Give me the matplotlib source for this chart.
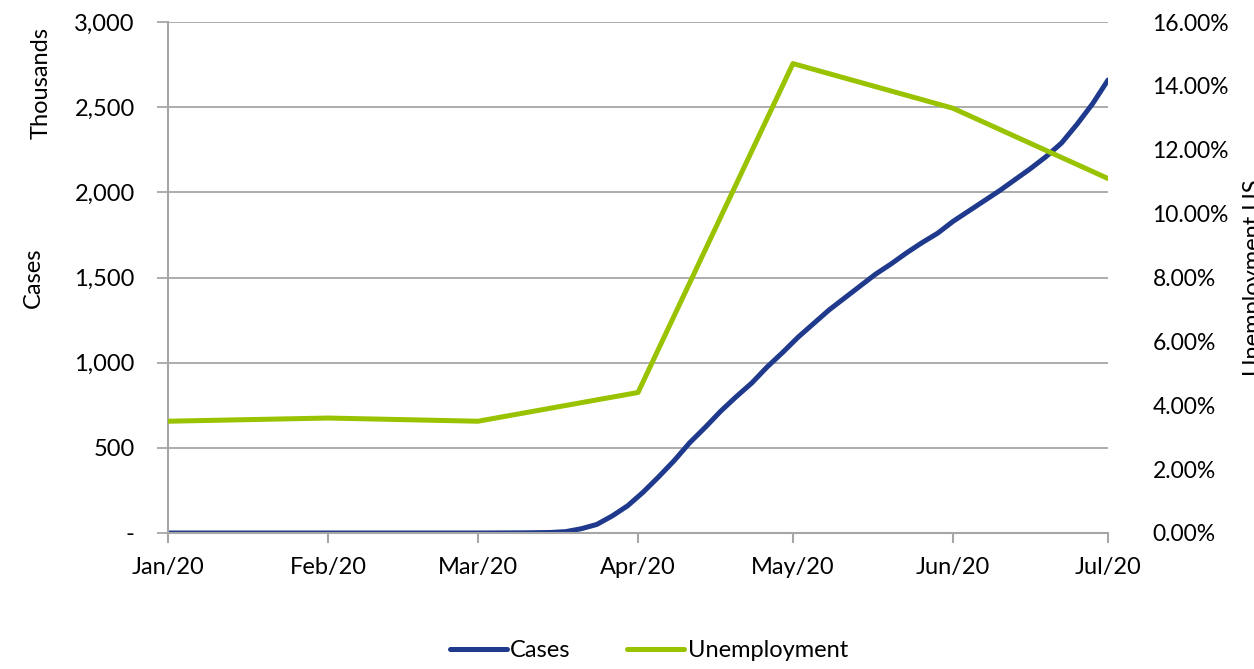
import matplotlib.pyplot as plt
import matplotlib.dates as mdates
import pandas as pd

plt.rcParams['font.family'] = ['Lato', 'DejaVu Sans']

# cumulative US cases, thousands
case_dates = ['2020-01-01', '2020-02-01', '2020-03-01', '2020-03-10', '2020-03-15',
              '2020-03-18', '2020-03-21', '2020-03-24', '2020-03-27', '2020-03-30',
              '2020-04-02', '2020-04-05', '2020-04-08', '2020-04-11', '2020-04-14',
              '2020-04-17', '2020-04-20', '2020-04-23', '2020-04-26', '2020-04-29',
              '2020-05-02', '2020-05-05', '2020-05-08', '2020-05-11', '2020-05-14',
              '2020-05-17', '2020-05-20', '2020-05-23', '2020-05-26', '2020-05-29',
              '2020-06-01', '2020-06-04', '2020-06-07', '2020-06-10', '2020-06-13',
              '2020-06-16', '2020-06-19', '2020-06-22', '2020-06-25', '2020-06-28',
              '2020-07-01']
cases = [0, 0, 0, 1, 3,
         8, 25, 50, 100, 160,
         240, 330, 425, 530, 620,
         715, 800, 880, 975, 1060,
         1150, 1230, 1310, 1380, 1450,
         1520, 1580, 1645, 1705, 1760,
         1830, 1890, 1950, 2010, 2075,
         2140, 2210, 2290, 2400, 2520,
         2660]

# unemployment rate, percent
unemp_dates = ['2020-01-01', '2020-02-01', '2020-03-01', '2020-04-01',
               '2020-05-01', '2020-06-01', '2020-07-01']
unemployment = [3.5, 3.6, 3.5, 4.4, 14.7, 13.3, 11.1]

month_labels = ['Jan/20', 'Feb/20', 'Mar/20', 'Apr/20', 'May/20', 'Jun/20', 'Jul/20']

blue = '#1F3A8C'
green = '#99C200'
grey = '#A6A6A6'

case_dates = pd.to_datetime(case_dates)
unemp_dates = pd.to_datetime(unemp_dates)

fig = plt.figure(figsize=(12.54, 6.69), dpi=100)
ax = fig.add_axes([0.134, 0.2033, 0.7496, 0.7637])
ax2 = ax.twinx()

l1, = ax.plot(case_dates, cases, color=blue, lw=3.6, solid_capstyle='round',
              solid_joinstyle='round', label='Cases')
l2, = ax2.plot(unemp_dates, unemployment, color=green, lw=3.6, solid_capstyle='round',
               label='Unemployment')

ax.set_ylim(0, 3000)
ax.set_yticks(range(0, 3001, 500))
ax.set_yticklabels(['-'] + [f'{v:,}' for v in range(500, 3001, 500)])
ax.grid(axis='y', color=grey, lw=1.3)
ax.set_axisbelow(True)

ax2.set_ylim(0, 16)
ax2.set_yticks(range(0, 17, 2))
ax2.set_yticklabels([f'{v:.2f}%' for v in range(0, 17, 2)])

ax.set_xlim(unemp_dates[0], unemp_dates[-1])
ax.set_xticks(unemp_dates)
ax.set_xticklabels(month_labels)

for a in (ax, ax2):
    for side in ('top', 'right', 'left', 'bottom'):
        a.spines[side].set_visible(False)
for side in ('left', 'bottom'):
    ax.spines[side].set_visible(True)
    ax.spines[side].set_color(grey)
    ax.spines[side].set_linewidth(1.5)

ax.tick_params(axis='y', length=8, width=1.3, color=grey, labelsize=17, pad=16)
ax.tick_params(axis='x', length=7, width=1.5, color=grey, labelsize=17, pad=10)
ax2.tick_params(axis='y', length=0, labelsize=16.5, pad=32)

ax.set_ylabel('Cases', fontsize=17, labelpad=22)
ax.text(-0.135, 0.88, 'Thousands', transform=ax.transAxes, rotation=90,
        fontsize=17, ha='center', va='center')
ax2.set_ylabel('Unemployment US', fontsize=17, labelpad=10)

fig.legend([l1, l2], ['Cases', 'Unemployment'], loc='center', ncol=2,
           bbox_to_anchor=(0.5175, 0.027), frameon=False, fontsize=17,
           handlelength=2.4, handletextpad=0.15, columnspacing=2.4)

fig.savefig('out.png', dpi=100)
